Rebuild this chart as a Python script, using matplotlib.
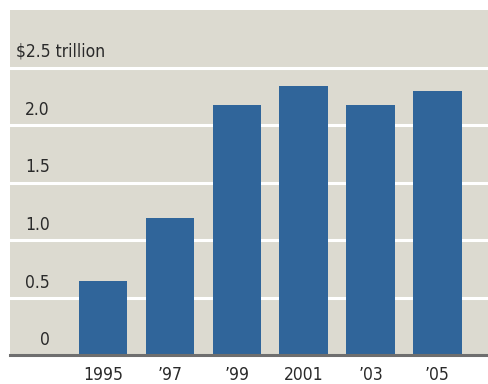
import matplotlib
matplotlib.use("Agg")
import matplotlib.pyplot as plt
from matplotlib import font_manager
from matplotlib.font_manager import FontProperties

years = ["1995", "\u201997", "\u201999", "2001", "\u201903", "\u201905"]
values = [0.64, 1.19, 2.17, 2.34, 2.17, 2.30]
ytick_vals = [0, 0.5, 1.0, 1.5, 2.0, 2.5]
ytick_labels = ["0", "0.5", "1.0", "1.5", "2.0", "$2.5 trillion"]

# pick a narrow font if available
fp = None
for f in font_manager.fontManager.ttflist:
    if f.name == "Liberation Sans Narrow" and f.weight in (400, "normal") and f.style == "normal":
        fp = FontProperties(fname=f.fname, size=14)
        break
if fp is None:
    for f in font_manager.fontManager.ttflist:
        if f.name == "DejaVu Sans" and "ondensed" in f.fname and "Bold" not in f.fname and "Oblique" not in f.fname:
            fp = FontProperties(fname=f.fname, size=12.5)
            break
if fp is None:
    fp = FontProperties(family="Liberation Sans", size=12)

BG = "#dcdad0"
BAR = "#30659a"
TXT = "#2a2a2a"

fig = plt.figure(figsize=(4.88, 3.84), dpi=100)
ax = fig.add_axes([10/488, 29/384, 478/488, 345/384])
ax.set_facecolor(BG)

x = list(range(len(years)))
ax.set_xlim(-1.39, 5.755)
ax.set_ylim(0, 3.0)

for v in ytick_vals[1:]:
    ax.axhline(v, color="white", lw=2.2, zorder=1)
ax.bar(x, values, width=0.725, color=BAR, zorder=2)
ax.axhline(0, color="#6e6e6e", lw=2.2, zorder=3, clip_on=False)

for v, lab in zip(ytick_vals, ytick_labels):
    if lab.startswith("$"):
        ax.annotate(lab, xy=(0, v), xycoords=ax.get_yaxis_transform(),
                    xytext=(6, 11), textcoords="offset pixels",
                    ha="left", va="baseline", fontproperties=fp, color=TXT)
    else:
        ax.annotate(lab, xy=(0, v), xycoords=ax.get_yaxis_transform(),
                    xytext=(40, 10), textcoords="offset pixels",
                    ha="right", va="baseline", fontproperties=fp, color=TXT)

ax.set_xticks(x)
ax.set_xticklabels(years, fontproperties=fp, color=TXT)
ax.tick_params(axis="x", length=0, pad=8)
ax.set_yticks([])
for s in ax.spines.values():
    s.set_visible(False)

fig.savefig("out.png", dpi=100, facecolor="white")
